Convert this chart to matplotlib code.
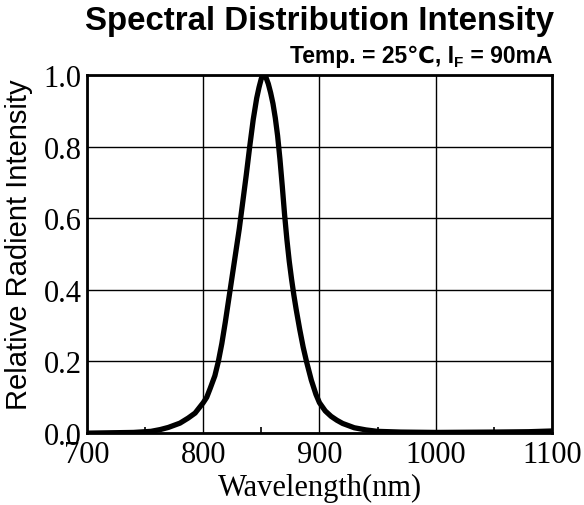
import numpy as np
import matplotlib
matplotlib.use("Agg")
import matplotlib.pyplot as plt
from matplotlib.ticker import MultipleLocator

# wavelength (nm) vs relative intensity
wavelength = [700, 720, 740, 755, 763, 770, 780, 787, 793, 800, 803, 806, 810,
              813, 816, 819, 822, 825, 828, 831, 834, 837, 840, 843, 846, 848,
              850, 852, 854, 856, 858, 860, 862, 864, 866, 868, 870, 872, 874,
              876, 878, 880, 883, 886, 889, 893, 897, 900, 905, 910, 915, 920,
              930, 940, 950, 970, 1000, 1050, 1080, 1100]
intensity = [0.0, 0.001, 0.002, 0.005, 0.010, 0.016, 0.028, 0.042, 0.056,
             0.085, 0.10, 0.125, 0.16, 0.20, 0.25, 0.31, 0.375, 0.44, 0.505,
             0.57, 0.645, 0.72, 0.80, 0.875, 0.935, 0.965, 0.99, 1.0, 0.993,
             0.975, 0.95, 0.92, 0.88, 0.83, 0.765, 0.69, 0.61, 0.54, 0.48,
             0.43, 0.385, 0.345, 0.29, 0.24, 0.198, 0.148, 0.108, 0.085,
             0.062, 0.047, 0.036, 0.027, 0.015, 0.009, 0.005, 0.003, 0.002,
             0.003, 0.004, 0.006]

xticks = [700, 800, 900, 1000, 1100]
yticks = [0.0, 0.2, 0.4, 0.6, 0.8, 1.0]

serif = ['Liberation Serif', 'DejaVu Serif']
sans = ['Liberation Sans', 'DejaVu Sans']

fig = plt.figure(figsize=(5.84, 5.06), dpi=100)
ax = fig.add_axes([0.149, 0.142, 0.796, 0.708])

ax.plot(wavelength, intensity, color='black', lw=3.8,
        solid_joinstyle='round', solid_capstyle='butt')
ax.set_xlim(700, 1100)
ax.set_ylim(0, 1.0)
ax.set_xticks(xticks)
ax.set_yticks(yticks)
ax.set_xticklabels([str(v) for v in xticks], family=serif, fontsize=22)
ax.set_yticklabels(['%.1f' % v for v in yticks], family=serif, fontsize=22)
ax.xaxis.set_minor_locator(MultipleLocator(50))
ax.tick_params(which='both', direction='in', width=1.2)
ax.tick_params(which='major', length=0)
ax.tick_params(axis='x', which='major', pad=5)
ax.tick_params(axis='y', which='major', pad=4)
ax.tick_params(which='minor', length=4)
ax.grid(True, color='black', lw=1.0)
for s in ax.spines.values():
    s.set_linewidth(2)

ax.set_xlabel('Wavelength(nm)', family=serif, fontsize=22, labelpad=3)
ax.set_ylabel('Relative Radient Intensity', family=sans, fontsize=21)
ax.yaxis.set_label_coords(-0.117, 0.528)

fig.text(0.547, 0.958, 'Spectral Distribution Intensity', family=sans,
         fontsize=23.8, fontweight='bold', ha='center', va='center')

# subtitle built from pieces so the subscript sits low
fig.canvas.draw()
r = fig.canvas.get_renderer()
ybase = 506 - 63
t3 = fig.text(552 / 584, ybase / 506, ' = 90mA', family=sans, fontsize=16.5,
              fontweight='bold', ha='right', va='baseline')
x3 = t3.get_window_extent(r).x0
t2 = fig.text(x3 / 584, (ybase - 4) / 506, 'F', family=sans, fontsize=11,
              fontweight='bold', ha='right', va='baseline')
x2 = t2.get_window_extent(r).x0
fig.text(x2 / 584, ybase / 506, 'Temp. = 25\u2103, I', family=sans, fontsize=16.5,
         fontweight='bold', ha='right', va='baseline')

fig.savefig('out.png', dpi=100)
